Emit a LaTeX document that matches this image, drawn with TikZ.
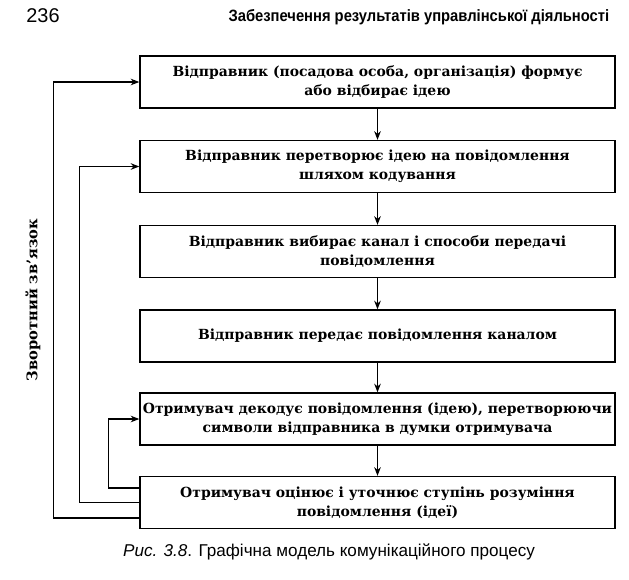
\documentclass[tikz,border=0pt]{standalone}
\usepackage{fontspec}
\setmainfont{DejaVu Serif}
\setsansfont{Liberation Sans}
\usetikzlibrary{arrows.meta,positioning,calc}
\tikzset{
  stagebox/.style={draw, line width=1.2pt, align=center, font=\bfseries\fontsize{11.9}{16}\selectfont,
    minimum width=14.25cm, minimum height=1.56cm, inner sep=1pt},
  arr/.style={-{Stealth[length=2.6mm,width=2mm]}, line width=0.9pt},
  backarr/.style={arr, rounded corners=0pt}
}
\begin{document}
\begin{tikzpicture}[x=0.03cm,y=-0.03cm]
        \useasboundingbox (0,0) rectangle (629,579);
        % page header
        \node[font=\sffamily\fontsize{17}{20}\selectfont] (pg) at (43,16) {236};
        \node[anchor=east, font=\sffamily\bfseries\fontsize{14}{17}\selectfont, xscale=0.9] (hd) at (613,17)
          {Забезпечення результатів управлінської діяльності};
        % stages of the process
        \node[stagebox] (b1) at (377.5,82) {Відправник (посадова особа, організація) формує\\або відбирає ідею};
        \node[stagebox] (b2) at (377.5,166.5) {Відправник перетворює ідею на повідомлення\\шляхом кодування};
        \node[stagebox] (b3) at (377.5,251.5) {Відправник вибирає канал і способи передачі\\повідомлення};
        \node[stagebox] (b4) at (377.5,336) {Відправник передає повідомлення каналом};
        \node[stagebox] (b5) at (377.5,419) {Отримувач декодує повідомлення (ідею), перетворюючи\\символи відправника в думки отримувача};
        \node[stagebox] (b6) at (377.5,502.5) {Отримувач оцінює і уточнює ступінь розуміння\\повідомлення (ідеї)};
        \foreach \a/\b in {b1/b2,b2/b3,b3/b4,b4/b5,b5/b6}
          \draw[arr] (\a) -- (\b);
        % feedback loops
        \draw[backarr] ($(b6.west)+(0,15.5)$) -| ($(b1.west)+(-86,0)$) -- (b1.west);
        \draw[backarr] ($(b6.west)+(0,0)$) -| ($(b2.west)+(-60,0)$) -- (b2.west);
        \draw[backarr] ($(b6.west)+(0,-14.5)$) -| ($(b5.west)+(-31,0)$) -- (b5.west);
        \node[rotate=90, font=\bfseries\fontsize{12.5}{15}\selectfont] (fb) at (33,300) {Зворотний зв'язок};
        % caption
        \node[font=\sffamily\fontsize{14.6}{17}\selectfont] (cap) at (329,552)
          {\textit{Рис. 3.8}. Графічна модель комунікаційного процесу};
      \end{tikzpicture}
\end{document}
